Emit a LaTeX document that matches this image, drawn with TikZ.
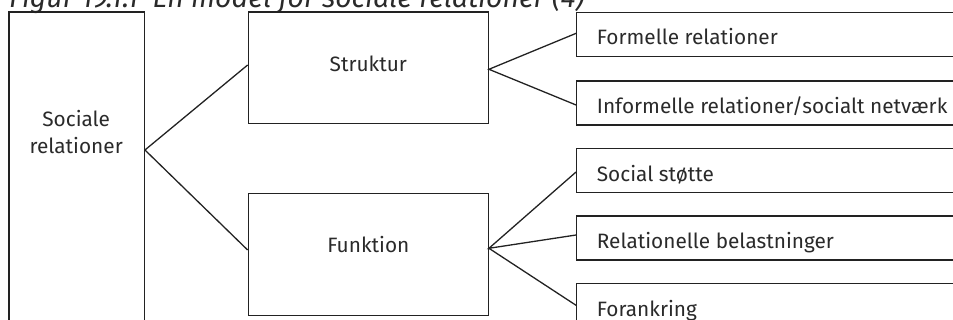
\documentclass[tikz,border=0pt]{standalone}
\usepackage{fontspec}
\setmainfont{Fira Sans}
\usetikzlibrary{calc}
\definecolor{ink}{HTML}{222222}
\definecolor{txt}{HTML}{2A2A2A}
\tikzset{
  box/.style={draw=ink, line width=1.3pt, rectangle, inner sep=0pt},
  lbl/.style={text=txt, font=\fontsize{20.8}{26.7}\selectfont, inner sep=0pt},
  link/.style={draw=ink, line width=1.3pt},
}
\begin{document}
\begin{tikzpicture}[x=1pt,y=-1pt]
\useasboundingbox (0,0) rectangle (953,320);
\clip (0,0) rectangle (953,320);
% title
\node[lbl, anchor=base west, font=\itshape\fontsize{28.4}{32}\selectfont] (title) at (9,7.3) {Figur 19.1.1\hspace{0.5em}En model for sociale relationer (4)};
% boxes
\node[box, minimum width=135.3pt, minimum height=328pt] (soc) at (76.65,176) {};
\node[lbl, align=center, anchor=base] (soct) at (76.2,153.3) {Sociale\\relationer};
\node[box, minimum width=240pt, minimum height=111.3pt] (str) at (368.3,67.65) {};
\node[lbl, anchor=base] (strt) at (368.3,71.7) {Struktur};
\node[box, minimum width=240pt, minimum height=122.4pt] (fun) at (368.3,254.5) {};
\node[lbl, anchor=base] (funt) at (368.3,252.3) {Funktion};
\foreach \n/\c/\b/\t in {f1/34.35/45/{Formelle relationer},
                         f2/103/113.3/{Informelle relationer/socialt netværk},
                         f3/170.7/181.7/{Social støtte},
                         f4/238/248.3/{Relationelle belastninger},
                         f5/305.3/316.7/{Forankring}}{
  \node[box, minimum width=393.3pt, minimum height=44pt] (\n) at (773.35,\c) {};
  \node[lbl, anchor=base west] (\n t) at (596.7,\b) {\t};
}
% connectors
\draw[link] ([yshift=2.65pt]str.west) -- ([yshift=26pt]soc.east) -- ([yshift=4.5pt]fun.west);
\draw[link] ([yshift=1pt]f1.west) -- ([yshift=-1.65pt]str.east) -- ([yshift=-2pt]f2.west);
\draw[link] ([yshift=-1.3pt]f3.west) -- ([yshift=6.2pt]fun.east) -- ([yshift=3pt]f4.west);
\draw[link] ([yshift=6.2pt]fun.east) -- (f5.west);
\end{tikzpicture}
\end{document}
